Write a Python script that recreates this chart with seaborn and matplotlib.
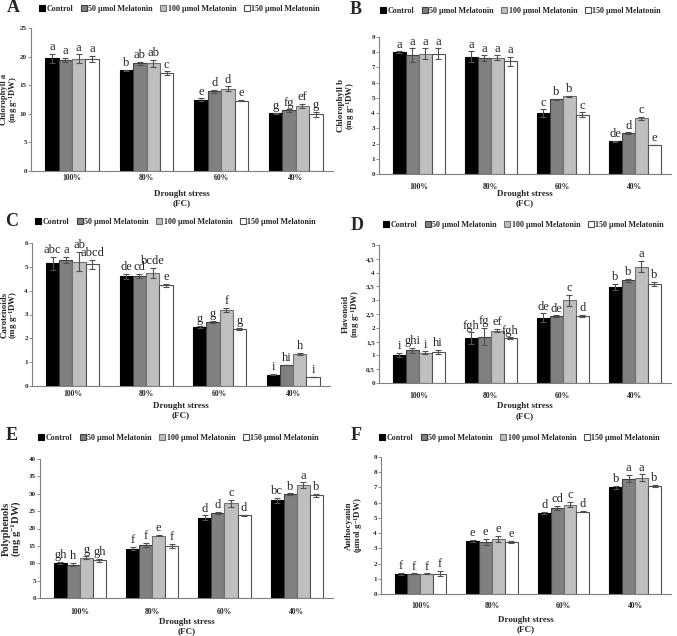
import numpy as np
import pandas as pd
import matplotlib
matplotlib.use('Agg')
import matplotlib.pyplot as plt
import seaborn as sns
from matplotlib.patches import Patch
from matplotlib.container import BarContainer
from matplotlib.ticker import FuncFormatter, MultipleLocator

# -----------------------------
# Data
# -----------------------------
drought = ['100%', '80%', '60%', '40%']
treatments = ['Control', '50 μmol Melatonin', '100 μmol Melatonin', '150 μmol Melatonin']

# rows = drought level, columns = treatment
chl_a = [[19.7, 19.4, 19.6, 19.6], [17.6, 18.8, 18.8, 17.1],
         [12.5, 13.9, 14.4, 12.3], [10.1, 10.6, 11.4, 9.9]]
chl_a_err = [[0.8, 0.4, 0.8, 0.5], [0.1, 0.3, 0.6, 0.3],
             [0.2, 0.3, 0.4, 0.1], [0.1, 0.2, 0.3, 0.5]]
chl_a_sig = [['a', 'a', 'a', 'a'], ['b', 'ab', 'ab', 'c'],
             ['e', 'd', 'd', 'e'], ['g', 'fg', 'ef', 'g']]

chl_b = [[8.0, 7.8, 7.9, 7.9], [7.7, 7.6, 7.65, 7.4],
         [4.0, 4.9, 5.1, 3.9], [2.15, 2.68, 3.65, 1.9]]
chl_b_err = [[0.05, 0.45, 0.35, 0.35], [0.35, 0.2, 0.15, 0.3],
             [0.25, 0.05, 0.05, 0.15], [0.05, 0.05, 0.12, 0.02]]
chl_b_sig = [['a', 'a', 'a', 'a'], ['a', 'a', 'a', 'a'],
             ['c', 'b', 'b', 'c'], ['de', 'd', 'c', 'e']]

carot = [[5.15, 5.3, 5.22, 5.1], [4.6, 4.63, 4.75, 4.22],
         [2.48, 2.68, 3.2, 2.4], [0.48, 0.88, 1.35, 0.38]]
carot_err = [[0.27, 0.12, 0.4, 0.2], [0.12, 0.08, 0.2, 0.08],
             [0.03, 0.05, 0.08, 0.05], [0.02, 0.01, 0.04, 0.01]]
carot_sig = [['abc', 'a', 'ab', 'abcd'], ['de', 'cd', 'bcde', 'e'],
             ['g', 'g', 'f', 'g'], ['i', 'hi', 'h', 'i']]

flav = [[1.03, 1.18, 1.1, 1.13], [1.63, 1.68, 1.9, 1.62],
        [2.37, 2.42, 3.0, 2.43], [3.48, 3.72, 4.22, 3.58]]
flav_err = [[0.07, 0.1, 0.05, 0.07], [0.2, 0.32, 0.07, 0.03],
            [0.15, 0.03, 0.2, 0.05], [0.1, 0.05, 0.2, 0.08]]
flav_sig = [['i', 'ghi', 'i', 'hi'], ['fgh', 'fg', 'ef', 'fgh'],
            ['de', 'de', 'c', 'd'], ['b', 'b', 'a', 'b']]

poly = [[10.1, 9.6, 11.6, 10.8], [14.2, 15.3, 17.9, 15.0],
        [23.1, 24.5, 27.3, 23.8], [28.1, 29.8, 32.5, 29.5]]
poly_err = [[0.3, 0.5, 0.4, 0.5], [0.5, 0.5, 0.2, 0.5],
            [0.7, 0.3, 1.0, 0.2], [0.8, 0.3, 0.8, 0.4]]
poly_sig = [['gh', 'h', 'g', 'gh'], ['f', 'f', 'e', 'f'],
            ['d', 'd', 'c', 'd'], ['bc', 'b', 'a', 'b']]

antho = [[1.33, 1.33, 1.33, 1.33], [3.47, 3.42, 3.62, 3.4],
         [5.32, 5.67, 5.87, 5.4], [7.0, 7.58, 7.65, 7.1]]
antho_err = [[0.05, 0.03, 0.03, 0.17], [0.07, 0.2, 0.2, 0.07],
             [0.06, 0.12, 0.18, 0.04], [0.1, 0.25, 0.22, 0.07]]
antho_sig = [['f', 'f', 'f', 'f'], ['e', 'e', 'e', 'e'],
             ['d', 'cd', 'c', 'd'], ['b', 'a', 'a', 'b']]

colors = ['#000000', '#808080', '#bfbfbf', '#ffffff']
edges = ['#000000', '#404040', '#707070', '#505050']

# -----------------------------
# Style
# -----------------------------
sns.set_style('white')
plt.rcParams['font.family'] = ['Liberation Serif', 'DejaVu Serif']
plt.rcParams['mathtext.default'] = 'regular'

W, H = 677, 636
fig = plt.figure(figsize=(W / 100, H / 100), dpi=100)


def box(l, r, t, b):
    return [l / W, 1 - b / H, (r - l) / W, (b - t) / H]


def draw_panel(ax, vals, errs, sig, ylabel, ymax, step, comma, ylab_size,
               tick_off, xlab_off, ylab_x, pos):
    l, r, t, b = pos
    df = pd.DataFrame([
        {'Drought': d, 'Treatment': tr, 'value': vals[i][j]}
        for i, d in enumerate(drought) for j, tr in enumerate(treatments)
    ])
    sns.barplot(data=df, x='Drought', y='value', hue='Treatment',
                order=drought, hue_order=treatments,
                palette=dict(zip(treatments, colors)), saturation=1,
                width=0.72, errorbar=None, legend=False, ax=ax,
                linewidth=0.8)
    bars = [c for c in ax.containers if isinstance(c, BarContainer)]
    for j, cont in enumerate(bars):
        for i, bar in enumerate(cont):
            bar.set_edgecolor(edges[j])
            xc = bar.get_x() + bar.get_width() / 2
            h = bar.get_height()
            ax.errorbar(xc, h, yerr=errs[i][j], color='#505050',
                        capsize=2.2, elinewidth=0.8, capthick=0.8)
            ax.annotate(sig[i][j], (xc, h + errs[i][j]),
                        xytext=(0, 0.5), textcoords='offset points',
                        ha='center', va='bottom', fontsize=9)
    ax.set_ylim(0, ymax)
    ax.set_xlim(-0.55, 3.5)
    ax.yaxis.set_major_locator(MultipleLocator(step))
    if comma:
        ax.yaxis.set_major_formatter(
            FuncFormatter(lambda v, p: f'{v:g}'.replace('.', ',')))
    else:
        ax.yaxis.set_major_formatter(FuncFormatter(lambda v, p: f'{v:g}'))
    ax.set_xticks(range(4))
    ax.set_xticklabels(drought)
    ax.set_xticks(np.arange(-0.5, 4, 1), minor=True)
    # pixel offsets -> points (dpi 100)
    ax.tick_params(axis='x', which='major', length=0, labelsize=5.5,
                   pad=max((tick_off - 3.5) * 0.72, 0))
    ax.tick_params(axis='x', which='minor', length=2.5, width=0.6,
                   color='#808080', direction='out')
    ax.tick_params(axis='y', length=2, width=0.6, color='#808080',
                   labelsize=5, pad=1, direction='out', left=True)
    for lab in ax.get_xticklabels() + ax.get_yticklabels():
        lab.set_fontweight('bold')
    for s in ['top', 'right']:
        ax.spines[s].set_visible(False)
    for s in ['left', 'bottom']:
        ax.spines[s].set_color('#808080')
        ax.spines[s].set_linewidth(0.8)
    ax.set_ylabel(ylabel, fontsize=ylab_size, fontweight='bold',
                  linespacing=0.85)
    ax.yaxis.set_label_coords((ylab_x - l) / (r - l), 0.5)
    ax.set_xlabel('Drought stress\n(FC)', fontsize=6.5, fontweight='bold',
                  linespacing=1.25)
    ax.xaxis.set_label_coords(0.5, -(xlab_off - 4.5) / (b - t))


handles = [Patch(facecolor=c, edgecolor=e, linewidth=0.8)
           for c, e in zip(colors, edges)]

# tag, values, errors, letters, ylabel, ymax, step, comma, ylabel size,
# axes box (l, r, t, b px), tag pos, legend pos, tick offset,
# xlabel offset, ylabel right edge (px)
panels = [
    ('A', chl_a, chl_a_err, chl_a_sig, 'Chlorophyll a\n(mg g$^{-1}$DW)', 25, 5,
     False, 6.2, (31, 333, 28, 171), (13, 8), (39, 9), 6, 23, 20),
    ('B', chl_b, chl_b_err, chl_b_sig, 'Chlorophyll b\n(mg g$^{-1}$DW)', 9, 1,
     False, 6.4, (379, 671, 37, 174), (356, 10), (380, 11), 12, 20, 357),
    ('C', carot, carot_err, carot_sig, 'Carotenoids\n(mg g$^{-1}$DW)', 6, 1,
     False, 6.4, (32, 330, 243, 386), (12, 221), (35, 222), 7, 20, 20),
    ('D', flav, flav_err, flav_sig, 'Flavonoid\n(mg g$^{-1}$DW)', 5, 0.5,
     True, 6.4, (379, 671, 245, 383), (357, 225), (383, 225), 13, 24, 362),
    ('E', poly, poly_err, poly_sig, 'Polyphenols\n(mg g$^{-1}$DW)', 40, 5,
     False, 7.6, (40, 333, 459, 598), (12, 436), (38, 438), 14, 24, 23),
    ('F', antho, antho_err, antho_sig, 'Anthocyanin\n(μmol g$^{-1}$DW)', 9, 1,
     False, 6.4, (381, 671, 457, 594), (356, 436), (379, 438), 12, 26, 365),
]

for (tag, vals, errs, sig, ylab, ymax, step, comma, ysz,
     pos, tagpos, legpos, tick_off, xlab_off, ylab_x) in panels:
    ax = fig.add_axes(box(*pos))
    draw_panel(ax, vals, errs, sig, ylab, ymax, step, comma, ysz,
               tick_off, xlab_off, ylab_x, pos)
    fig.text(tagpos[0] / W, 1 - tagpos[1] / H, tag, fontsize=13,
             fontweight='bold', ha='center', va='center')
    ax.legend(handles, treatments, loc='center left',
              bbox_to_anchor=(legpos[0] / W, 1 - legpos[1] / H),
              bbox_transform=fig.transFigure, ncol=4, frameon=False,
              handlelength=0.75, handleheight=0.75, handletextpad=0.2,
              columnspacing=0.9, borderpad=0, borderaxespad=0,
              prop={'size': 5.8, 'weight': 'bold'})

fig.savefig('out.png', dpi=100, facecolor='white')
plt.close(fig)
print('Saved out.png')
